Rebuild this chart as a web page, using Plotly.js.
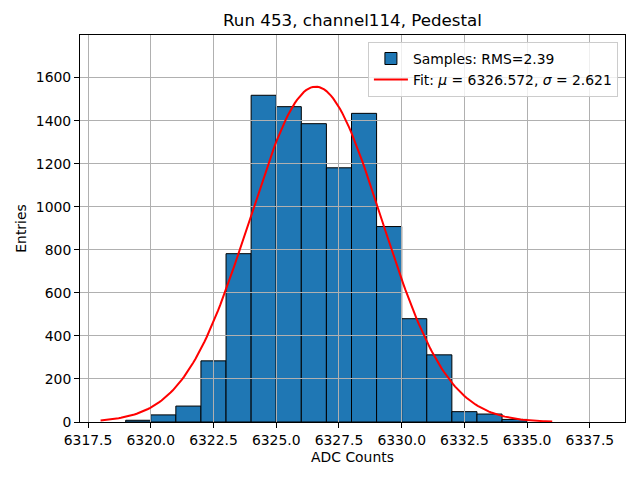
<!DOCTYPE html>
<html>
<head>
<meta charset="utf-8">
<script src="https://cdn.plot.ly/plotly-3.0.1.min.js"></script>
<style>html,body{margin:0;padding:0;background:#fff;}</style>
</head>
<body>
<div id="chart" style="width:640px;height:480px;"></div>
<script>
// Histogram bins (left edges, width 1) and counts
const binStart = [6319, 6320, 6321, 6322, 6323, 6324, 6325, 6326, 6327, 6328, 6329, 6330, 6331, 6332, 6333, 6334];
const counts   = [8, 33, 74, 284, 782, 1518, 1465, 1386, 1181, 1434, 908, 480, 312, 48, 37, 12];
const binWidth = 1;

const fitMu = 6326.572;
const fitSigma = 2.621;
const fitAmp = 1558;
const fitXMin = 6318;
const fitXMax = 6336;

const xTickVals = [6317.5, 6320.0, 6322.5, 6325.0, 6327.5, 6330.0, 6332.5, 6335.0, 6337.5];
const yTickVals = [0, 200, 400, 600, 800, 1000, 1200, 1400, 1600];

const fitX = [], fitY = [];
const nPts = 200;
for (let i = 0; i <= nPts; i++) {
  const x = fitXMin + (fitXMax - fitXMin) * i / nPts;
  fitX.push(x);
  fitY.push(fitAmp * Math.exp(-0.5 * Math.pow((x - fitMu) / fitSigma, 2)));
}

const xRange = [6317.18, 6338.9];
const yRange = [0, 1798];
const font = {family: 'DejaVu Sans, sans-serif', size: 13.9, color: '#000'};

const traces = [
  {
    type: 'bar',
    x: binStart,
    y: counts,
    width: binWidth,
    offset: 0,
    marker: {color: '#1f77b4', line: {color: '#000', width: 1}},
    name: 'Samples: RMS=2.39',
    xaxis: 'x', yaxis: 'y',
    legendrank: 1,
    hoverinfo: 'skip'
  },
  {
    type: 'scatter',
    mode: 'lines',
    x: fitX,
    y: fitY,
    line: {color: '#ff0000', width: 2},
    name: 'Fit: <i>μ</i> = 6326.572, <i>σ</i> = 2.621',
    xaxis: 'x2', yaxis: 'y2',
    legendrank: 2,
    hoverinfo: 'skip'
  }
];

const layout = {
  width: 640,
  height: 480,
  margin: {l: 80, r: 15, t: 35, b: 58, pad: 0},
  paper_bgcolor: '#fff',
  plot_bgcolor: 'rgba(0,0,0,0)',
  font: font,
  showlegend: true,
  bargap: 0,
  title: {
    text: 'Run 453, channel114, Pedestal',
    font: {family: 'DejaVu Sans, sans-serif', size: 16.7, color: '#000'},
    x: 0.5, xref: 'paper', xanchor: 'center',
    y: 1 - 20 / 480, yref: 'container', yanchor: 'middle'
  },
  xaxis: {
    domain: [0, 1],
    range: xRange,
    tickvals: xTickVals,
    ticktext: xTickVals.map(v => v.toFixed(1)),
    ticks: 'outside', ticklen: 5, tickwidth: 1, tickcolor: '#000',
    showgrid: false, zeroline: false,
    showline: true, linecolor: '#000', linewidth: 1, mirror: true,
    tickfont: font,
    title: {text: 'ADC Counts', font: font, standoff: 5}
  },
  yaxis: {
    domain: [0, 1],
    range: yRange,
    tickvals: yTickVals,
    ticktext: yTickVals.map(v => String(v)),
    ticks: 'outside', ticklen: 5, tickwidth: 1, tickcolor: '#000',
    showgrid: false, zeroline: false,
    showline: true, linecolor: '#000', linewidth: 1, mirror: true,
    tickfont: font,
    title: {text: 'Entries', font: font, standoff: 5}
  },
  xaxis2: {
    domain: [0, 1], anchor: 'y2',
    range: xRange,
    tickvals: xTickVals,
    showticklabels: false, ticks: '',
    showgrid: true, gridcolor: '#b0b0b0', gridwidth: 1,
    zeroline: false, showline: false
  },
  yaxis2: {
    domain: [0, 1], anchor: 'x2',
    range: yRange,
    tickvals: yTickVals,
    showticklabels: false, ticks: '',
    showgrid: true, gridcolor: '#b0b0b0', gridwidth: 1,
    zeroline: false, showline: false
  },
  legend: {
    x: 0.987, y: 0.982, xanchor: 'right', yanchor: 'top',
    bgcolor: 'rgba(255,255,255,0.8)',
    bordercolor: '#cccccc', borderwidth: 1,
    font: font,
    itemwidth: 34,
    tracegroupgap: 2
  }
};

Plotly.newPlot('chart', traces, layout, {displayModeBar: false, staticPlot: true});
</script>
</body>
</html>
